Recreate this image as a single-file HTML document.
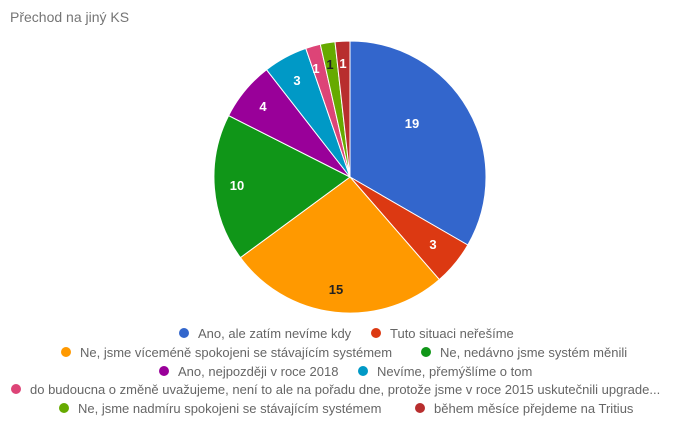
<!DOCTYPE html>
<html><head><meta charset="utf-8"><style>
body{margin:0;background:#fff;}
svg text{font-family:"Liberation Sans",sans-serif;}
</style></head><body>
<svg width="693" height="420" xmlns="http://www.w3.org/2000/svg">
<rect width="693" height="420" fill="#fff"/>
<text x="10" y="22" font-size="14" fill="#757575">Přechod na jiný KS</text>
<g stroke="#fff" stroke-width="1">
<path d="M350,177 L350,41 A136,136 0 0 1 467.8,245 Z" fill="#3366cc"/>
<path d="M350,177 L467.8,245 A136,136 0 0 1 439.3,279.6 Z" fill="#dc3912"/>
<path d="M350,177 L439.3,279.6 A136,136 0 0 1 240.4,257.6 Z" fill="#ff9900"/>
<path d="M350,177 L240.4,257.6 A136,136 0 0 1 228.6,115.6 Z" fill="#109618"/>
<path d="M350,177 L228.6,115.6 A136,136 0 0 1 266.5,69.7 Z" fill="#990099"/>
<path d="M350,177 L266.5,69.7 A136,136 0 0 1 305.8,48.4 Z" fill="#0099c6"/>
<path d="M350,177 L305.8,48.4 A136,136 0 0 1 320.3,44.3 Z" fill="#dd4477"/>
<path d="M350,177 L320.3,44.3 A136,136 0 0 1 335,41.8 Z" fill="#66aa00"/>
<path d="M350,177 L335,41.8 A136,136 0 0 1 350,41 Z" fill="#b82e2e"/>
</g>
<g font-size="13" font-weight="bold" text-anchor="middle" fill="#fff">
<text x="412" y="128">19</text>
<text x="433" y="249">3</text>
<text x="336" y="294" fill="#222">15</text>
<text x="237" y="190">10</text>
<text x="263" y="111">4</text>
<text x="297" y="85">3</text>
<text x="316" y="73">1</text>
<text x="330" y="69" fill="#222">1</text>
<text x="343" y="68">1</text>
</g>
<g font-size="13" fill="#666">
<circle cx="184" cy="333" r="5" fill="#3366cc"/><text x="198" y="338">Ano, ale zatím nevíme kdy</text>
<circle cx="376" cy="333" r="5" fill="#dc3912"/><text x="390" y="338">Tuto situaci neřešíme</text>
<circle cx="66" cy="352" r="5" fill="#ff9900"/><text x="80" y="357">Ne, jsme víceméně spokojeni se stávajícím systémem</text>
<circle cx="426" cy="352" r="5" fill="#109618"/><text x="440" y="357">Ne, nedávno jsme systém měnili</text>
<circle cx="164" cy="371" r="5" fill="#990099"/><text x="178" y="376">Ano, nejpozději v roce 2018</text>
<circle cx="363" cy="371" r="5" fill="#0099c6"/><text x="377" y="376">Nevíme, přemýšlíme o tom</text>
<circle cx="16" cy="389" r="5" fill="#dd4477"/><text x="30" y="394">do budoucna o změně uvažujeme, není to ale na pořadu dne, protože jsme v roce 2015 uskutečnili upgrade...</text>
<circle cx="64" cy="408" r="5" fill="#66aa00"/><text x="78" y="413">Ne, jsme nadmíru spokojeni se stávajícím systémem</text>
<circle cx="420" cy="408" r="5" fill="#b82e2e"/><text x="434" y="413">během měsíce přejdeme na Tritius</text>
</g>
</svg>
</body></html>
